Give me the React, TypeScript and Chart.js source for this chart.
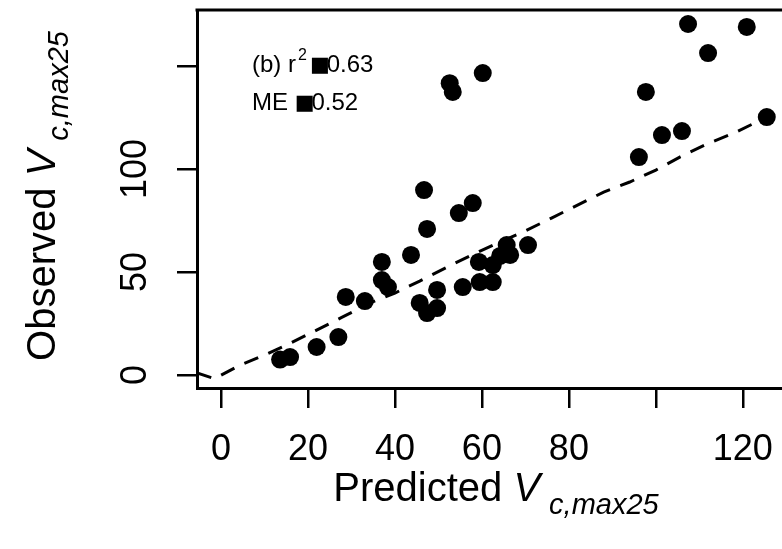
import { useEffect, useRef } from 'react';
import { Chart, registerables } from 'chart.js';

Chart.register(...registerables);

// Observed vs predicted Vc,max25 (panel b)
const predicted = [13.6, 15.9, 22.0, 27.0, 28.7, 33.1, 37.0, 37.0, 38.4, 43.7, 45.7, 47.4, 49.7, 49.7, 46.7, 47.4, 54.7, 57.9, 52.6, 53.3, 60.2, 55.6, 59.5, 62.5, 59.3, 62.5, 64.2, 65.7, 66.5, 70.6, 96.1, 97.7, 101.4, 106.0, 107.4, 112.0, 120.9, 125.5];
const observed = [7.5, 8.7, 13.6, 18.4, 37.9, 35.9, 54.9, 46.1, 42.7, 58.3, 35.0, 30.1, 41.3, 32.5, 89.8, 70.9, 78.6, 83.5, 141.7, 137.4, 146.6, 42.7, 45.1, 45.1, 54.9, 53.4, 57.8, 63.1, 58.3, 63.1, 105.8, 137.4, 116.5, 118.4, 170.4, 156.3, 169.0, 125.2];

// dashed fitted curve
const fitX = [-5.5, -1.5, 4, 10, 16, 22, 28, 34.3, 40, 45.7, 52, 57.7, 63.7, 70, 76, 88, 94, 100, 105.5, 111.7, 118, 125.5];
const fitY = [1, -1.8, 4.4, 9.7, 15.5, 21.8, 28.2, 35, 39.8, 45.6, 52.4, 58.3, 64.1, 70, 76.2, 88.8, 93.7, 99.5, 105.8, 112.1, 117.5, 125.2];

const xTicks = [0, 20, 40, 60, 80, 100, 120];
const xTickLabels = ['0', '20', '40', '60', '80', '', '120'];
const yTicks = [0, 50, 100, 150];
const yTickLabels = ['0', '50', '100', ''];

const statLines = [
  { label: '(b) r', sup: '2', value: '0.63' },
  { label: 'ME ', sup: '', value: '0.52' },
];
const eqGlyph = '\u25A0';

const xTitle = { main: 'Predicted ', v: 'V', sub: 'c,max25' };
const yTitle = { main: 'Observed ', v: 'V', sub: 'c,max25' };

const FONT = '"Liberation Sans", Arial, Helvetica, sans-serif';

function drawTitle(ctx: CanvasRenderingContext2D, t: { main: string; v: string; sub: string }, size: number, subSize: number, subDrop: number) {
  ctx.font = `${size}px ${FONT}`;
  const w1 = ctx.measureText(t.main).width;
  ctx.font = `italic ${size}px ${FONT}`;
  const w2 = ctx.measureText(t.v).width;
  ctx.font = `italic ${subSize}px ${FONT}`;
  const w3 = ctx.measureText(t.sub).width;
  const gap = 9;
  const total = w1 + w2 + gap + w3;
  let x = -total / 2;
  ctx.textAlign = 'left';
  ctx.textBaseline = 'alphabetic';
  ctx.font = `${size}px ${FONT}`;
  ctx.fillText(t.main, x, 0);
  x += w1;
  ctx.font = `italic ${size}px ${FONT}`;
  ctx.fillText(t.v, x, 0);
  x += w2 + gap;
  ctx.font = `italic ${subSize}px ${FONT}`;
  ctx.fillText(t.sub, x, subDrop);
}

const decor = {
  id: 'decor',
  afterDraw(chart: any) {
    const { ctx, chartArea } = chart;
    ctx.save();
    ctx.strokeStyle = '#000';
    ctx.lineWidth = 3;
    ctx.beginPath();
    ctx.moveTo(chartArea.left - 1.5, chartArea.top);
    ctx.lineTo(chartArea.right + 2, chartArea.top);
    ctx.stroke();

    // statistics text
    ctx.fillStyle = '#000';
    ctx.textAlign = 'left';
    ctx.textBaseline = 'alphabetic';
    const baseY = [72, 110];
    statLines.forEach((s, i) => {
      let x = 252;
      const y = baseY[i];
      ctx.font = `24px ${FONT}`;
      ctx.fillText(s.label, x, y);
      x += ctx.measureText(s.label).width;
      if (s.sup) {
        ctx.font = `16px ${FONT}`;
        ctx.fillText(s.sup, x + 2, y - 12);
        x += ctx.measureText(s.sup).width + 5;
      }
      ctx.font = `21px "DejaVu Sans", sans-serif`;
      ctx.fillText(eqGlyph, x, y - 1);
      x += ctx.measureText(eqGlyph).width - 3;
      ctx.font = `24px ${FONT}`;
      ctx.fillText(s.value, x, y);
    });

    // axis titles
    ctx.save();
    ctx.translate(496, 501);
    drawTitle(ctx, xTitle, 40, 29, 13);
    ctx.restore();

    ctx.save();
    ctx.translate(55, 196);
    ctx.rotate(-Math.PI / 2);
    drawTitle(ctx, yTitle, 40, 29, 13);
    ctx.restore();

    ctx.restore();
  },
};

function zeroPad(s: any) {
  s.paddingTop = 0;
  s.paddingBottom = 0;
  s.paddingLeft = 0;
  s.paddingRight = 0;
}

export default function App() {
  const ref = useRef<HTMLCanvasElement>(null);
  useEffect(() => {
    if (!ref.current) return;
    const chart = new Chart(ref.current, {
      type: 'scatter',
      data: {
        datasets: [
          {
            data: predicted.map((x, i) => ({ x, y: observed[i] })),
            backgroundColor: '#000',
            borderWidth: 0,
            pointRadius: 9,
            pointHoverRadius: 9,
          },
          {
            data: fitX.map((x, i) => ({ x, y: fitY[i] })),
            showLine: true,
            borderColor: '#000',
            borderWidth: 3,
            borderDash: [15, 11],
            pointRadius: 0,
            fill: false,
            tension: 0,
          } as any,
        ],
      },
      options: {
        responsive: false,
        animation: false,
        layout: { autoPadding: false, padding: { top: 10, right: 0, left: 0, bottom: 0 } },
        plugins: { legend: { display: false }, tooltip: { enabled: false } },
        scales: {
          x: {
            type: 'linear',
            min: -5.5,
            max: 129,
            afterBuildTicks: (s: any) => {
              s.ticks = xTicks.map((v) => ({ value: v }));
            },
            afterFit: (s: any) => {
              s.height = 161;
              zeroPad(s);
            },
            grid: { drawOnChartArea: false, drawTicks: true, tickLength: 20, color: '#000', lineWidth: 2.5 },
            border: { display: true, color: '#000', width: 3 },
            ticks: {
              autoSkip: false,
              maxRotation: 0,
              minRotation: 0,
              padding: 20,
              color: '#000',
              font: { family: FONT, size: 36 },
              callback: (v: any) => {
                const i = xTicks.indexOf(Number(v));
                return i >= 0 ? xTickLabels[i] : '';
              },
            },
          },
          y: {
            type: 'linear',
            min: -6.3,
            max: 177.2,
            afterBuildTicks: (s: any) => {
              s.ticks = yTicks.map((v) => ({ value: v }));
            },
            afterFit: (s: any) => {
              s.width = 197;
              zeroPad(s);
            },
            grid: { drawOnChartArea: false, drawTicks: true, tickLength: 20, color: '#000', lineWidth: 2.5 },
            border: { display: true, color: '#000', width: 3 },
            ticks: {
              autoSkip: false,
              minRotation: 90,
              maxRotation: 90,
              crossAlign: 'center',
              padding: 11,
              color: '#000',
              font: { family: FONT, size: 36 },
              callback: (v: any) => {
                const i = yTicks.indexOf(Number(v));
                return i >= 0 ? yTickLabels[i] : '';
              },
            },
          },
        },
      },
      plugins: [decor],
    });
    return () => chart.destroy();
  }, []);
  return (
    <div style={{ position: 'absolute', left: 0, top: 0, width: 782, height: 549, overflow: 'hidden', background: '#fff' }}>
      <canvas ref={ref} width={782} height={549} style={{ display: 'block' }} />
    </div>
  );
}
